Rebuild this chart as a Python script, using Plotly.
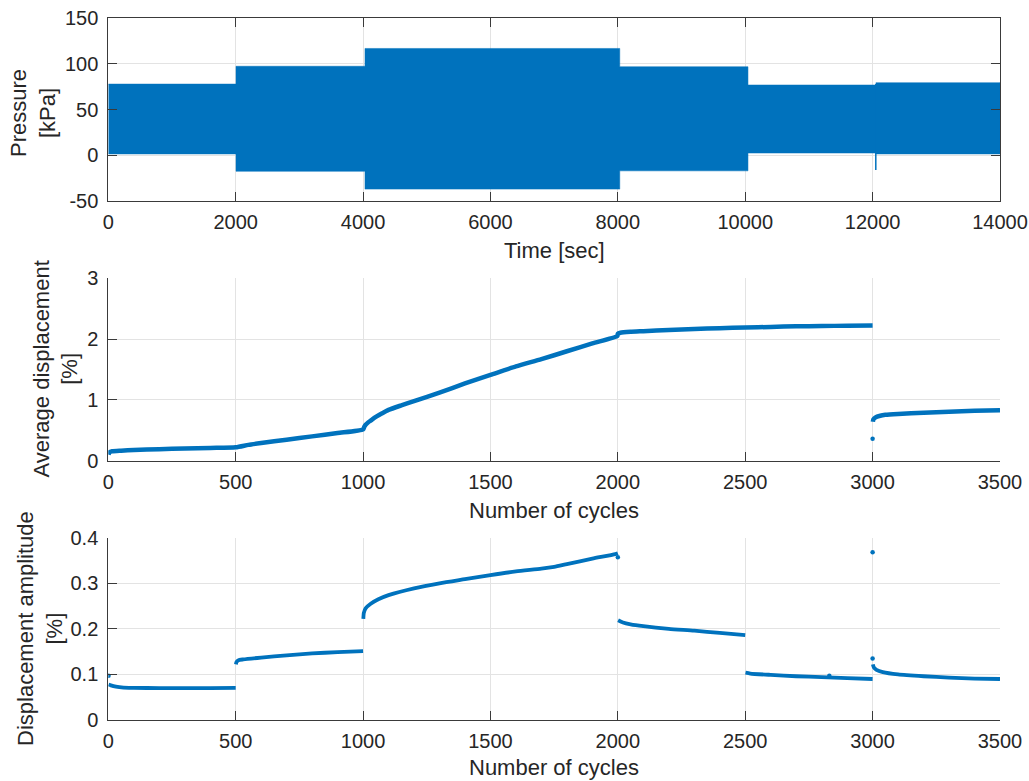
import plotly.graph_objects as go

# ---------------- data ----------------
# Pressure envelope per loading stage (time in s, pressure in kPa)
stage_start = [0, 2005, 4030, 8030, 10043, 12052]
stage_end = [2005, 4030, 8030, 10043, 12052, 14000]
stage_max = [78, 97.5, 117, 97, 77, 79.5]
stage_min = [1.5, -17.5, -37, -17, 2.5, 1.5]
spike_time = [12050, 12050]
spike_vals = [-16, 78]

# Average displacement [%] vs number of cycles
avg_cyc_a = [1, 5, 15, 50, 100, 200, 300, 400, 500, 550, 600, 700, 800, 900, 1000,
             1005, 1010, 1020, 1030, 1050, 1075, 1100, 1150, 1200, 1300, 1400, 1500,
             1600, 1700, 1800, 1900, 1998, 2000, 2010, 2050, 2100, 2200, 2300, 2400,
             2500, 2600, 2700, 2800, 2900, 3000]
avg_val_a = [0.10, 0.14, 0.155, 0.165, 0.175, 0.19, 0.20, 0.21, 0.22, 0.26, 0.29, 0.345,
             0.40, 0.455, 0.515, 0.56, 0.59, 0.63, 0.66, 0.72, 0.78, 0.835, 0.91, 0.98,
             1.12, 1.27, 1.41, 1.55, 1.67, 1.80, 1.93, 2.05, 2.09, 2.105, 2.12, 2.13,
             2.15, 2.165, 2.18, 2.19, 2.20, 2.21, 2.215, 2.22, 2.225]
avg_cyc_b = [3001, 3003, 3010, 3030, 3050, 3100, 3200, 3300, 3400, 3500]
avg_val_b = [0.64, 0.68, 0.71, 0.74, 0.755, 0.77, 0.79, 0.805, 0.82, 0.83]
avg_out_cyc = [3000]
avg_out_val = [0.36]

# Displacement amplitude [%] vs number of cycles (one list per stage)
amp_segments = [
    ([1, 10, 30, 60, 100, 200, 300, 400, 500],
     [0.078, 0.076, 0.073, 0.071, 0.0705, 0.070, 0.070, 0.070, 0.0705]),
    ([501, 503, 510, 530, 600, 700, 800, 900, 1000],
     [0.122, 0.127, 0.131, 0.133, 0.137, 0.142, 0.146, 0.149, 0.151]),
    ([1001, 1003, 1010, 1030, 1060, 1100, 1200, 1300, 1400, 1500, 1600, 1700,
      1750, 1800, 1900, 1990, 2000],
     [0.222, 0.235, 0.245, 0.255, 0.265, 0.274, 0.289, 0.300, 0.309, 0.318, 0.326,
      0.332, 0.336, 0.342, 0.354, 0.364, 0.366]),
    ([2001, 2020, 2050, 2100, 2200, 2300, 2400, 2500],
     [0.219, 0.214, 0.210, 0.206, 0.200, 0.196, 0.191, 0.186]),
    ([2501, 2520, 2600, 2700, 2800, 2900, 3000],
     [0.104, 0.102, 0.099, 0.096, 0.094, 0.092, 0.090]),
    ([3001, 3005, 3015, 3040, 3100, 3200, 3300, 3400, 3500],
     [0.122, 0.115, 0.110, 0.105, 0.100, 0.096, 0.093, 0.091, 0.090]),
]
amp_out_cyc = [1, 2000, 2830, 3000, 3000]
amp_out_val = [0.097, 0.357, 0.097, 0.368, 0.135]

# Tick labels
p_xticks = [0, 2000, 4000, 6000, 8000, 10000, 12000, 14000]
p_xlabels = ["0", "2000", "4000", "6000", "8000", "10000", "12000", "14000"]
p_yticks = [-50, 0, 50, 100, 150]
p_ylabels = ["-50", "0", "50", "100", "150"]
c_xticks = [0, 500, 1000, 1500, 2000, 2500, 3000, 3500]
c_xlabels = ["0", "500", "1000", "1500", "2000", "2500", "3000", "3500"]
avg_yticks = [0, 1, 2, 3]
avg_ylabels = ["0", "1", "2", "3"]
amp_yticks = [0, 0.1, 0.2, 0.3, 0.4]
amp_ylabels = ["0", "0.1", "0.2", "0.3", "0.4"]

# ---------------- figure ----------------
BLUE = "#0072BD"
TXT = "#262626"
GRID = "#e3e3e3"
AX = "#3a3a3a"
FONT = "Liberation Sans, Arial, Helvetica, sans-serif"
W, H = 1029, 781

fig = go.Figure()

# pressure envelope polygon
px, py = [], []
for s, e, mx in zip(stage_start, stage_end, stage_max):
    px += [s, e]
    py += [mx, mx]
for s, e, mn in reversed(list(zip(stage_start, stage_end, stage_min))):
    px += [e, s]
    py += [mn, mn]
fig.add_trace(go.Scatter(x=px, y=py, mode="lines", fill="toself", fillcolor=BLUE,
                         line=dict(color=BLUE, width=0.5), xaxis="x", yaxis="y",
                         hoverinfo="skip"))
fig.add_trace(go.Scatter(x=spike_time, y=spike_vals, mode="lines",
                         line=dict(color=BLUE, width=1.5), xaxis="x", yaxis="y"))

# average displacement
fig.add_trace(go.Scatter(x=avg_cyc_a, y=avg_val_a, mode="lines",
                         line=dict(color=BLUE, width=4.5, shape="spline", smoothing=0.6),
                         xaxis="x2", yaxis="y2"))
fig.add_trace(go.Scatter(x=avg_cyc_b, y=avg_val_b, mode="lines",
                         line=dict(color=BLUE, width=4.5, shape="spline", smoothing=0.6),
                         xaxis="x2", yaxis="y2"))
fig.add_trace(go.Scatter(x=avg_out_cyc, y=avg_out_val, mode="markers",
                         marker=dict(color=BLUE, size=4.5), xaxis="x2", yaxis="y2"))

# displacement amplitude
for cyc, val in amp_segments:
    fig.add_trace(go.Scatter(x=cyc, y=val, mode="lines",
                             line=dict(color=BLUE, width=3.8, shape="spline", smoothing=0.6),
                             xaxis="x3", yaxis="y3"))
fig.add_trace(go.Scatter(x=amp_out_cyc, y=amp_out_val, mode="markers",
                         marker=dict(color=BLUE, size=4.5), xaxis="x3", yaxis="y3"))

xdom = [108.3 / W, 1000 / W]
def ydom(top, bottom):
    return [1 - bottom / H, 1 - top / H]

tickfont = dict(family=FONT, size=20, color=TXT)
common = dict(showgrid=True, gridcolor=GRID, gridwidth=1, showline=True, linecolor=AX,
              linewidth=1, ticks="inside", ticklen=9, tickcolor=AX, tickwidth=1,
              tickfont=tickfont, zeroline=False, tickmode="array", automargin=False)

XSO = 3
YSO = 5
fig.update_layout(
    width=W, height=H, margin=dict(l=0, r=0, t=0, b=0, autoexpand=False),
    paper_bgcolor="white", plot_bgcolor="white", showlegend=False,
    font=dict(family=FONT, color=TXT),
    xaxis=dict(domain=xdom, anchor="y", range=[0, 14000], tickvals=p_xticks,
               ticktext=p_xlabels, mirror="ticks", ticklabelstandoff=XSO, **common),
    yaxis=dict(domain=ydom(18.3, 201), anchor="x", range=[-50, 150], tickvals=p_yticks,
               ticktext=p_ylabels, mirror="ticks", ticklabelstandoff=YSO, **common),
    xaxis2=dict(domain=xdom, anchor="y2", range=[0, 3500], tickvals=c_xticks,
                ticktext=c_xlabels, ticklabelstandoff=XSO, **common),
    yaxis2=dict(domain=ydom(278.3, 460.7), anchor="x2", range=[0, 3], tickvals=avg_yticks,
                ticktext=avg_ylabels, ticklabelstandoff=YSO, **common),
    xaxis3=dict(domain=xdom, anchor="y3", range=[0, 3500], tickvals=c_xticks,
                ticktext=c_xlabels, ticklabelstandoff=XSO, **common),
    yaxis3=dict(domain=ydom(537.7, 720), anchor="x3", range=[0, 0.4], tickvals=amp_yticks,
                ticktext=amp_ylabels, ticklabelstandoff=YSO, **common),
)

labfont = dict(family=FONT, size=22, color=TXT)
def ann(text, xpx, ypx, angle=0):
    fig.add_annotation(text=text, x=xpx / W, y=1 - ypx / H, xref="paper", yref="paper",
                       showarrow=False, textangle=angle, xanchor="center",
                       yanchor="middle", font=labfont)

ann("Time [sec]", 554, 251)
ann("Number of cycles", 554, 510.5)
ann("Number of cycles", 554, 767)
ann("Pressure<br>[kPa]", 33, 113, -90)
ann("Average displacement<br>[%]", 56, 369.5, -90)
ann("Displacement amplitude<br>[%]", 40, 629, -90)

fig.write_html("out.html")
